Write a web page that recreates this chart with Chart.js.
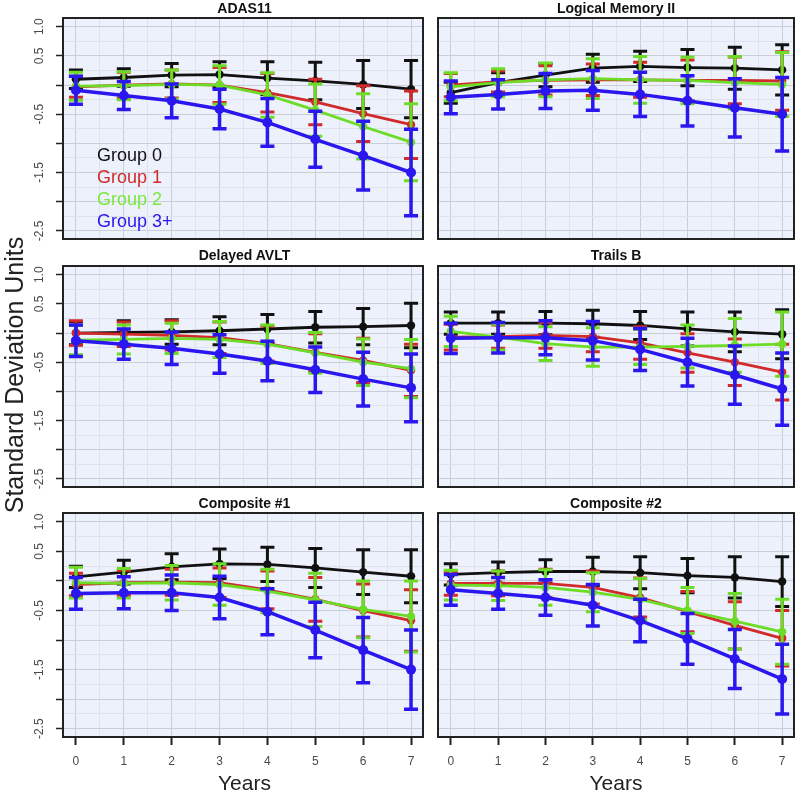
<!DOCTYPE html>
<html>
<head>
<meta charset="utf-8">
<script src="https://cdn.jsdelivr.net/npm/chart.js@4.4.0/dist/chart.umd.min.js"></script>
<style>
  body { margin: 0; background: #fff; font-family: "Liberation Sans", Arial, sans-serif; }
  #page { position: relative; width: 800px; height: 793px; overflow: hidden; }
  canvas { position: absolute; }
  .title { position: absolute; width: 360px; text-align: center; font-weight: bold; font-size: 14px; line-height: 16px; color: #111; }
  .xtitle { position: absolute; width: 200px; text-align: center; font-size: 21px; line-height: 24px; color: #222; }
  .ytitle { position: absolute; width: 400px; height: 28px; line-height: 28px; text-align: center; font-size: 25px; color: #222; transform: rotate(-90deg); }
  .legend { position: absolute; left: 97px; font-size: 18px; line-height: 22px; }
</style>
</head>
<body>
<div id="page"></div>
<script>
// Jahre und Achsen
const years = [0, 1, 2, 3, 4, 5, 6, 7];
const xMinor = [0.5, 1.5, 2.5, 3.5, 4.5, 5.5, 6.5];
const yMajor = [1.0, 0.5, 0, -0.5, -1.0, -1.5, -2.0, -2.5];
const yLabels = ['1.0', '0.5', '', '-0.5', '', '-1.5', '', '-2.5'];
const yMinor = [0.75, 0.25, -0.25, -0.75, -1.25, -1.75, -2.25];

const groupNames = ['Group 0', 'Group 1', 'Group 2', 'Group 3+'];
const groupColors = ['#111111', '#d02a2a', '#6cdc26', '#2a16ee'];

// Mittelwerte und Fehlerbalken je Panel (Gruppe 0, 1, 2, 3+)
const adasMean = [
    [0.10, 0.13, 0.17, 0.18, 0.12, 0.07, 0.01, -0.07],
    [-0.03, 0.00, 0.02, 0.00, -0.13, -0.29, -0.49, -0.68],
    [-0.02, -0.01, 0.01, 0.00, -0.17, -0.43, -0.71, -0.98],
    [-0.09, -0.18, -0.27, -0.41, -0.64, -0.93, -1.21, -1.50]
];
const adasErr = [
    [0.16, 0.15, 0.20, 0.22, 0.28, 0.32, 0.41, 0.49],
    [0.18, 0.22, 0.24, 0.30, 0.33, 0.39, 0.48, 0.58],
    [0.24, 0.24, 0.25, 0.33, 0.38, 0.45, 0.56, 0.66],
    [0.24, 0.24, 0.29, 0.34, 0.41, 0.48, 0.59, 0.74]
];

const lmMean = [
    [-0.13, 0.04, 0.17, 0.29, 0.32, 0.30, 0.29, 0.26],
    [0.00, 0.06, 0.08, 0.09, 0.09, 0.08, 0.08, 0.07],
    [-0.03, 0.04, 0.09, 0.11, 0.09, 0.08, 0.04, 0.01],
    [-0.21, -0.16, -0.10, -0.09, -0.16, -0.27, -0.39, -0.50]
];
const lmErr = [
    [0.18, 0.17, 0.20, 0.24, 0.26, 0.31, 0.36, 0.43],
    [0.20, 0.18, 0.25, 0.27, 0.30, 0.35, 0.40, 0.50],
    [0.24, 0.24, 0.29, 0.34, 0.40, 0.40, 0.45, 0.55],
    [0.28, 0.25, 0.30, 0.34, 0.38, 0.43, 0.50, 0.63]
];

const avltMean = [
    [0.00, 0.01, 0.02, 0.04, 0.07, 0.10, 0.11, 0.13],
    [0.00, -0.02, -0.04, -0.08, -0.18, -0.33, -0.47, -0.64],
    [-0.12, -0.11, -0.09, -0.11, -0.19, -0.34, -0.50, -0.61],
    [-0.13, -0.19, -0.26, -0.36, -0.48, -0.63, -0.79, -0.94]
];
const avltErr = [
    [0.20, 0.20, 0.21, 0.24, 0.25, 0.27, 0.31, 0.38],
    [0.21, 0.21, 0.25, 0.27, 0.30, 0.32, 0.38, 0.45],
    [0.25, 0.25, 0.26, 0.31, 0.33, 0.35, 0.40, 0.50],
    [0.27, 0.26, 0.28, 0.33, 0.34, 0.39, 0.46, 0.58]
];

const trailsMean = [
    [0.17, 0.17, 0.17, 0.16, 0.13, 0.07, 0.02, -0.02],
    [-0.07, -0.06, -0.04, -0.06, -0.17, -0.34, -0.50, -0.67],
    [0.03, -0.07, -0.18, -0.24, -0.24, -0.23, -0.21, -0.19],
    [-0.09, -0.08, -0.08, -0.13, -0.28, -0.50, -0.72, -0.96]
];
const trailsErr = [
    [0.19, 0.19, 0.20, 0.23, 0.24, 0.29, 0.34, 0.42],
    [0.22, 0.20, 0.22, 0.26, 0.28, 0.33, 0.40, 0.48],
    [0.26, 0.22, 0.29, 0.33, 0.30, 0.37, 0.46, 0.55],
    [0.26, 0.26, 0.29, 0.33, 0.36, 0.41, 0.50, 0.62]
];

const comp1Mean = [
    [0.07, 0.15, 0.24, 0.29, 0.28, 0.22, 0.15, 0.08],
    [-0.06, -0.03, -0.02, -0.03, -0.15, -0.31, -0.50, -0.67],
    [-0.03, -0.04, -0.03, -0.06, -0.17, -0.32, -0.48, -0.60],
    [-0.21, -0.20, -0.20, -0.28, -0.52, -0.83, -1.17, -1.50]
];
const comp1Err = [
    [0.18, 0.20, 0.22, 0.25, 0.29, 0.33, 0.38, 0.45],
    [0.19, 0.21, 0.22, 0.25, 0.32, 0.37, 0.45, 0.52],
    [0.26, 0.25, 0.29, 0.35, 0.37, 0.45, 0.48, 0.60],
    [0.27, 0.27, 0.30, 0.36, 0.39, 0.47, 0.55, 0.67]
];

const comp2Mean = [
    [0.11, 0.14, 0.16, 0.16, 0.14, 0.09, 0.06, -0.01],
    [-0.04, -0.04, -0.04, -0.11, -0.28, -0.52, -0.75, -0.97],
    [-0.07, -0.08, -0.11, -0.19, -0.31, -0.50, -0.68, -0.86],
    [-0.15, -0.21, -0.28, -0.41, -0.67, -0.98, -1.32, -1.66]
];
const comp2Err = [
    [0.18, 0.18, 0.20, 0.24, 0.27, 0.29, 0.35, 0.42],
    [0.20, 0.21, 0.24, 0.28, 0.33, 0.34, 0.40, 0.47],
    [0.25, 0.25, 0.30, 0.33, 0.35, 0.39, 0.47, 0.55],
    [0.26, 0.27, 0.30, 0.35, 0.36, 0.43, 0.50, 0.59]
];

const panels = [
    { title: 'ADAS11', mean: adasMean, err: adasErr, col: 0, row: 0 },
    { title: 'Logical Memory II', mean: lmMean, err: lmErr, col: 1, row: 0 },
    { title: 'Delayed AVLT', mean: avltMean, err: avltErr, col: 0, row: 1 },
    { title: 'Trails B', mean: trailsMean, err: trailsErr, col: 1, row: 1 },
    { title: 'Composite #1', mean: comp1Mean, err: comp1Err, col: 0, row: 2 },
    { title: 'Composite #2', mean: comp2Mean, err: comp2Err, col: 1, row: 2 }
];

// Geometrie der Plotboxen
const boxLeft = [63, 435];
const boxWidth = [363, 362];
const boxTop = [15, 263, 510];
const boxHeight = 227;
const titleY = [8, 255, 503];

const fontFamily = '"Liberation Sans", Arial, sans-serif';
const majorGrid = '#c9ced9';
const minorGrid = '#dde2ee';

const page = document.getElementById('page');

// Hintergrund, Fehlerbalken, Rahmen, gedrehte y-Beschriftung
const panelPlugin = {
    id: 'panelDeco',
    beforeDraw(chart) {
        const a = chart.chartArea;
        const ctx = chart.ctx;
        ctx.save();
        ctx.fillStyle = '#edf1fb';
        ctx.fillRect(a.left, a.top, a.right - a.left, a.bottom - a.top);
        ctx.restore();
    },
    beforeDatasetDraw(chart, args) {
        const ds = chart.data.datasets[args.index];
        const xs = chart.scales.x;
        const ys = chart.scales.y;
        const ctx = chart.ctx;
        ctx.save();
        ctx.strokeStyle = ds.borderColor;
        ctx.lineWidth = ds.barWidth;
        ds.data.forEach((p, i) => {
            const x = xs.getPixelForValue(p.x);
            const top = ys.getPixelForValue(p.y + ds.err[i]);
            const bot = ys.getPixelForValue(p.y - ds.err[i]);
            ctx.beginPath();
            ctx.moveTo(x, top);
            ctx.lineTo(x, bot);
            ctx.moveTo(x - 7, top);
            ctx.lineTo(x + 7, top);
            ctx.moveTo(x - 7, bot);
            ctx.lineTo(x + 7, bot);
            ctx.stroke();
        });
        ctx.restore();
    },
    afterDraw(chart) {
        const a = chart.chartArea;
        const ctx = chart.ctx;
        ctx.save();
        ctx.strokeStyle = '#222';
        ctx.lineWidth = 2;
        ctx.strokeRect(a.left, a.top, a.right - a.left, a.bottom - a.top);
        if (chart.options.showYLabels) {
            const ys = chart.scales.y;
            ctx.fillStyle = '#4a4a4a';
            ctx.font = '12px ' + fontFamily;
            ctx.textAlign = 'center';
            ctx.textBaseline = 'middle';
            yMajor.forEach((v, i) => {
                if (!yLabels[i]) return;
                ctx.save();
                ctx.translate(a.left - 23, ys.getPixelForValue(v));
                ctx.rotate(-Math.PI / 2);
                ctx.fillText(yLabels[i], 0, 0);
                ctx.restore();
            });
        }
        ctx.restore();
    }
};

function gridColor(c) {
    return c.tick && c.tick.minor ? minorGrid : majorGrid;
}
function tickColor(c) {
    return c.tick && c.tick.minor ? 'rgba(0,0,0,0)' : '#222';
}

panels.forEach(p => {
    const isLeft = p.col === 0;
    const isBottom = p.row === 2;
    const axisW = isLeft ? 50 : 2;
    const axisH = isBottom ? 40 : 2;

    const canvas = document.createElement('canvas');
    const w = axisW + boxWidth[p.col] + 2;
    const h = 2 + boxHeight + axisH;
    canvas.width = w;
    canvas.height = h;
    canvas.style.left = (boxLeft[p.col] - axisW) + 'px';
    canvas.style.top = (boxTop[p.row] - 2) + 'px';
    canvas.style.width = w + 'px';
    canvas.style.height = h + 'px';
    page.appendChild(canvas);

    const title = document.createElement('div');
    title.className = 'title';
    title.textContent = p.title;
    title.style.left = (boxLeft[p.col] + boxWidth[p.col] / 2 - 180) + 'px';
    title.style.top = (titleY[p.row] - 8) + 'px';
    page.appendChild(title);

    new Chart(canvas, {
        type: 'line',
        data: {
            datasets: p.mean.map((m, g) => ({
                label: groupNames[g],
                data: years.map((yr, i) => ({ x: yr, y: m[i] })),
                err: p.err[g],
                borderColor: groupColors[g],
                backgroundColor: groupColors[g],
                borderWidth: g === 3 ? 3.5 : 2.8,
                barWidth: g === 3 ? 3.5 : 3,
                pointRadius: g === 3 ? 5 : 4.2,
                pointBorderWidth: 0,
                tension: 0,
                order: 3 - g
            }))
        },
        options: {
            responsive: false,
            animation: false,
            devicePixelRatio: 1,
            showYLabels: isLeft,
            layout: { padding: { top: 2, right: 2, left: 0, bottom: 0 } },
            plugins: { legend: { display: false }, tooltip: { enabled: false } },
            scales: {
                x: {
                    type: 'linear',
                    min: -0.27,
                    max: 7.25,
                    afterBuildTicks: s => {
                        s.ticks = years.map(v => ({ value: v }))
                            .concat(xMinor.map(v => ({ value: v, minor: true })))
                            .sort((a, b) => a.value - b.value);
                    },
                    afterFit: s => { s.height = axisH; },
                    border: { display: false },
                    grid: {
                        color: gridColor,
                        lineWidth: 1,
                        drawTicks: isBottom,
                        tickLength: 8,
                        tickWidth: 2,
                        tickColor: tickColor
                    },
                    ticks: {
                        display: isBottom,
                        autoSkip: false,
                        maxRotation: 0,
                        padding: 9,
                        color: '#4a4a4a',
                        font: { size: 12, family: fontFamily },
                        callback: v => Number.isInteger(v) ? String(v) : ''
                    }
                },
                y: {
                    type: 'linear',
                    min: -2.64,
                    max: 1.15,
                    afterBuildTicks: s => {
                        s.ticks = yMajor.map(v => ({ value: v }))
                            .concat(yMinor.map(v => ({ value: v, minor: true })))
                            .sort((a, b) => a.value - b.value);
                    },
                    afterFit: s => { s.width = axisW; },
                    border: { display: false },
                    grid: {
                        color: gridColor,
                        lineWidth: 1,
                        drawTicks: isLeft,
                        tickLength: 7,
                        tickWidth: 1.5,
                        tickColor: tickColor
                    },
                    ticks: { display: false }
                }
            }
        },
        plugins: [panelPlugin]
    });

    if (isBottom) {
        const xt = document.createElement('div');
        xt.className = 'xtitle';
        xt.textContent = 'Years';
        xt.style.left = (boxLeft[p.col] + boxWidth[p.col] / 2 - 100) + 'px';
        xt.style.top = '771px';
        page.appendChild(xt);
    }
});

// Achsentitel links
const yt = document.createElement('div');
yt.className = 'ytitle';
yt.textContent = 'Standard Deviation Units';
yt.style.left = (14 - 200) + 'px';
yt.style.top = (375 - 14) + 'px';
page.appendChild(yt);

// Legende im ersten Panel
groupNames.forEach((name, g) => {
    const d = document.createElement('div');
    d.className = 'legend';
    d.textContent = name;
    d.style.color = g === 2 ? '#7ae83a' : groupColors[g];
    d.style.top = (155 + g * 22 - 11) + 'px';
    page.appendChild(d);
});
</script>
</body>
</html>
